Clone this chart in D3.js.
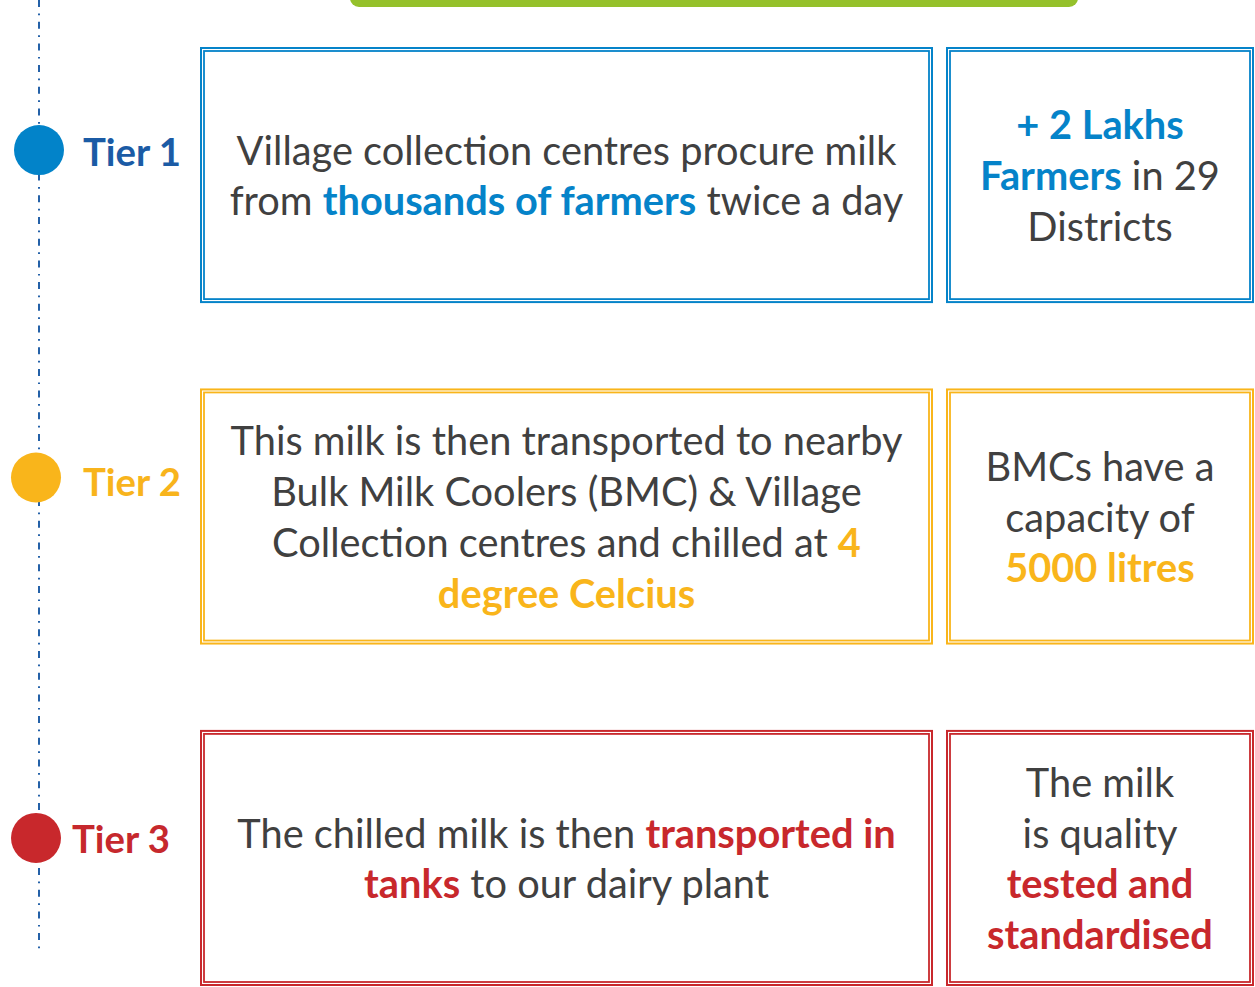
<!DOCTYPE html>
<html>
<head>
<meta charset="utf-8">
<script src="https://cdn.jsdelivr.net/npm/d3@7"></script>
<style>
  body { margin: 0; background: #fff; }
  svg { display: block; }
</style>
</head>
<body>
<div id="chart"></div>
<script>
// tiers and their texts, each line is a list of [text, highlighted]
const tiers = ["Tier 1", "Tier 2", "Tier 3"];

const mainText = [
  [[["Village collection centres procure milk", 0]],
   [["from ", 0], ["thousands of farmers", 1], [" twice a day", 0]]],
  [[["This milk is then transported to nearby", 0]],
   [["Bulk Milk Coolers (BMC) & Village", 0]],
   [["Collection centres and chilled at ", 0], ["4", 1]],
   [["degree Celcius", 1]]],
  [[["The chilled milk is then ", 0], ["transported in", 1]],
   [["tanks", 1], [" to our dairy plant", 0]]]
];

const sideText = [
  [[["+ 2 Lakhs", 1]], [["Farmers", 1], [" in 29", 0]], [["Districts", 0]]],
  [[["BMCs have a", 0]], [["capacity of", 0]], [["5000 litres", 1]]],
  [[["The milk", 0]], [["is quality", 0]], [["tested and", 1]], [["standardised", 1]]]
];

// colours
var labelColor = ["#1b5ba5", "#f8b41c", "#c6282d"],
    accent = ["#0583c9", "#f9b51b", "#c8282c"],
    grey = "#404040";

var width = 1255, height = 987;
var font = "Lato, 'Open Sans', sans-serif";

var svg = d3.select("#chart").append("svg")
    .attr("width", width)
    .attr("height", height);

// rows
var y = d3.scaleBand().domain(tiers).range([47, 986]).paddingInner(0.25);
var boxMain = { x0: 200, x1: 933 },
    boxSide = { x0: 946, x1: 1254 };

// size the font so the first line fits like in the picture
var probe = svg.append("text").attr("font-family", font).attr("font-size", 100)
    .text(mainText[0][0][0][0]);
var fs = 100 * 660 / probe.node().getComputedTextLength();
probe.attr("font-weight", "bold").attr("font-size", 100).text("Tier 1");
var fsLabel = 100 * 98 / probe.node().getComputedTextLength();
probe.remove();
var lineH = 50.8;

// green bar at top
svg.append("rect")
    .attr("x", 350).attr("y", -20)
    .attr("width", 728).attr("height", 27)
    .attr("rx", 9)
    .attr("fill", "#95c12b");

// dashed timeline
svg.append("line")
    .attr("x1", 39).attr("x2", 39)
    .attr("y1", 0).attr("y2", 952)
    .attr("stroke", "#2461a8")
    .attr("stroke-width", 2)
    .attr("stroke-dasharray", "7,6.5,1.7,6.5");

var markerOff = [-25, -39, -20],
    markerX = [39, 36, 36],
    labelX = [83, 83, 72],
    labelOff = [16, 18, 15];

function drawBox(g, x0, x1, y0, h, col) {
    g.append("rect")
        .attr("x", x0 + 1).attr("y", y0 + 1)
        .attr("width", x1 - x0 - 2).attr("height", h - 2)
        .attr("fill", "none").attr("stroke", col).attr("stroke-width", 2);
    g.append("rect")
        .attr("x", x0 + 4).attr("y", y0 + 4)
        .attr("width", x1 - x0 - 8).attr("height", h - 8)
        .attr("fill", "none").attr("stroke", col).attr("stroke-width", 1.8);
}

function drawLines(g, lines, cx, cy, col) {
    var n = lines.length;
    lines.forEach(function (line, i) {
        var t = g.append("text")
            .attr("x", cx)
            .attr("y", cy + (i - (n - 1) / 2) * lineH + 15)
            .attr("text-anchor", "middle")
            .attr("font-family", font)
            .attr("font-size", fs)
            .attr("fill", grey)
            .style("white-space", "pre");
        line.forEach(function (seg) {
            t.append("tspan")
                .attr("font-weight", seg[1] ? "bold" : "normal")
                .attr("fill", seg[1] ? col : grey)
                .text(seg[0]);
        });
    });
}

tiers.forEach(function (tier, i) {
    var g = svg.append("g");
    var y0 = y(tier), h = y.bandwidth(), cy = y0 + h / 2;

    drawBox(g, boxMain.x0, boxMain.x1, y0, h, accent[i]);
    drawBox(g, boxSide.x0, boxSide.x1, y0, h, accent[i]);

    drawLines(g, mainText[i], (boxMain.x0 + boxMain.x1) / 2, cy, accent[i]);
    drawLines(g, sideText[i], (boxSide.x0 + boxSide.x1) / 2, cy, accent[i]);

    var my = cy + markerOff[i];
    g.append("circle")
        .attr("cx", markerX[i]).attr("cy", my).attr("r", 25)
        .attr("fill", i == 0 ? "#0283c9" : accent[i]);
    g.append("text")
        .attr("x", labelX[i]).attr("y", my + labelOff[i])
        .attr("font-family", font)
        .attr("font-weight", "bold")
        .attr("font-size", fsLabel)
        .attr("fill", labelColor[i])
        .text(tier);
});
</script>
</body>
</html>
